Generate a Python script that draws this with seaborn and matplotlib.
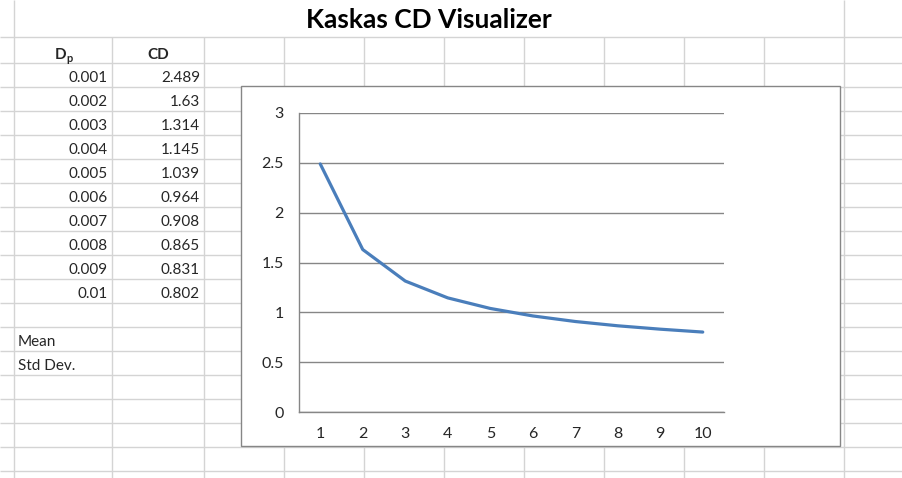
import matplotlib
matplotlib.use("Agg")
import matplotlib.pyplot as plt
import seaborn as sns
import pandas as pd
from matplotlib.patches import Rectangle
from matplotlib.ticker import FixedLocator

# ---- data ----
dp_values = ["0.001", "0.002", "0.003", "0.004", "0.005",
             "0.006", "0.007", "0.008", "0.009", "0.01"]
cd_values = [2.489, 1.63, 1.314, 1.145, 1.039, 0.964, 0.908, 0.865, 0.831, 0.802]
cd_labels = ["2.489", "1.63", "1.314", "1.145", "1.039",
             "0.964", "0.908", "0.865", "0.831", "0.802"]
categories = [1, 2, 3, 4, 5, 6, 7, 8, 9, 10]
y_ticks = [0, 0.5, 1, 1.5, 2, 2.5, 3]
y_tick_labels = ["0", "0.5", "1", "1.5", "2", "2.5", "3"]
title = "Kaskas CD Visualizer"
stat_labels = ["Mean", "Std Dev."]

sns.set_style("white")
plt.rcParams["font.family"] = ["Lato", "DejaVu Sans"]

W, H = 902, 478
fig = plt.figure(figsize=(W / 100, H / 100), dpi=100)

# ---- spreadsheet background ----
bg = fig.add_axes([0, 0, 1, 1])
bg.set_xlim(0, W)
bg.set_ylim(H, 0)
bg.axis("off")
grid_c = "#d4d4d4"
col_x = [14, 112, 204, 284, 364, 444, 524, 604, 684, 764, 844]
for x in col_x:
    top = 0 if x in (14, 844) else 37
    bg.plot([x, x], [top, H], color=grid_c, lw=1, solid_capstyle="butt")
row_y = [37] + list(range(63, H, 24))
for y in row_y:
    bg.plot([0, W], [y, y], color=grid_c, lw=1, solid_capstyle="butt")

bg.text(429, 20, title, ha="center", va="center", fontsize=19,
        fontweight="bold", color="black")

fs = 11
dy = 2.5
# header
bg.text(66, 52 + dy, "D", ha="right", va="center", fontsize=fs, fontweight="bold")
bg.text(66.5, 56 + dy, "p", ha="left", va="center", fontsize=8, fontweight="bold")
bg.text(158, 52 + dy, "CD", ha="center", va="center", fontsize=fs, fontweight="bold")
for i, (d, c) in enumerate(zip(dp_values, cd_labels)):
    yc = 75 + dy + 24 * i
    bg.text(108, yc, d, ha="right", va="center", fontsize=fs)
    bg.text(200, yc, c, ha="right", va="center", fontsize=fs)
for i, s in enumerate(stat_labels):
    bg.text(18, 339 + dy + 24 * i, s, ha="left", va="center", fontsize=fs)

# chart box
bg.add_patch(Rectangle((241, 86), 599, 360, facecolor="white",
                       edgecolor="#868686", lw=1, zorder=5))

# ---- chart ----
px0, py0, px1, py1 = 299, 113, 724, 412
ax = fig.add_axes([px0 / W, (H - py1) / H, (px1 - px0) / W, (py1 - py0) / H])
ax.set_facecolor("none")
df = pd.DataFrame({"x": categories, "CD": cd_values})
sns.lineplot(data=df, x="x", y="CD", ax=ax, color="#4A7EBB", lw=2.3)
ax.set_xlim(0.5, 10.5)
ax.set_ylim(0, 3)
ax.set_yticks(y_ticks)
ax.set_yticklabels(y_tick_labels)
ax.yaxis.grid(True, color="#868686", lw=1)
ax.set_axisbelow(True)
ax.xaxis.set_major_locator(FixedLocator([c - 0.5 for c in categories] + [10.5]))
ax.xaxis.set_minor_locator(FixedLocator(categories))
ax.set_xticklabels([])
ax.set_xticklabels([str(c) for c in categories], minor=True)
ax.tick_params(axis="x", which="major", direction="out", length=4.3,
               width=0.8, color="#868686", labelbottom=False)
ax.tick_params(axis="x", which="minor", length=0, pad=11, labelsize=11.5)
ax.tick_params(axis="y", direction="out", length=4.3, width=0.8,
               color="#868686", pad=6.5, labelsize=11.5)
for s in ["top", "right"]:
    ax.spines[s].set_visible(False)
for s in ["left", "bottom"]:
    ax.spines[s].set_color("#868686")
    ax.spines[s].set_linewidth(1)
ax.set_xlabel("")
ax.set_ylabel("")

fig.savefig("out.png", dpi=100)
